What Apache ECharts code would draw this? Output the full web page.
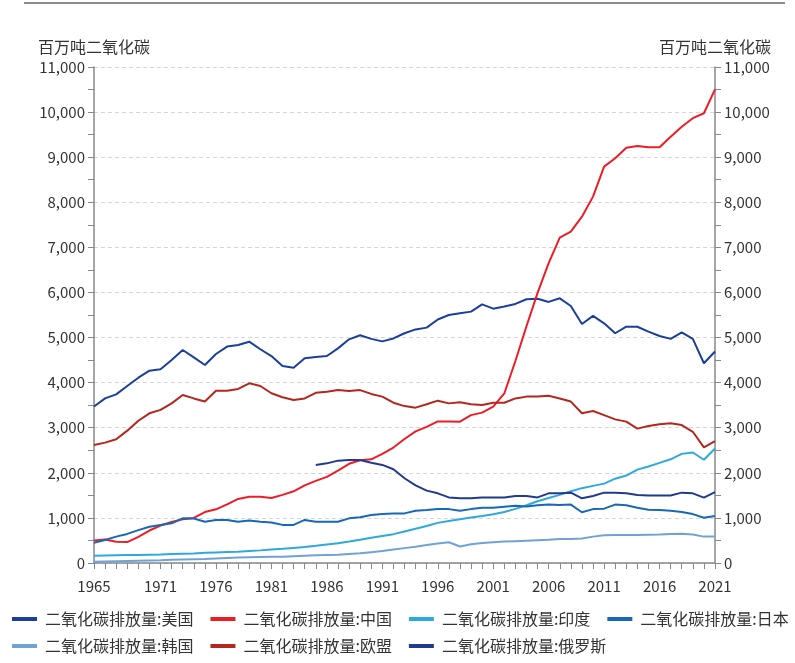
<!DOCTYPE html>
<html>
<head>
<meta charset="utf-8">
<script src="https://cdn.jsdelivr.net/npm/echarts@6/dist/echarts.min.js"></script>
<style>
  html, body { margin: 0; padding: 0; background: #fff; }
  #chart { width: 795px; height: 663px; }
</style>
</head>
<body>
<div id="chart"></div>
<script>
// years 1965-2021
var years = [];
for (var y = 1965; y <= 2021; y++) years.push(String(y));
var xLabels = ['1965', '1971', '1976', '1981', '1986', '1991', '1996', '2001', '2006', '2011', '2016', '2021'];

// 百万吨二氧化碳
var usa = [3470, 3650, 3740, 3925, 4110, 4265, 4295, 4500, 4724, 4560, 4390, 4635, 4800, 4835, 4908, 4740, 4590, 4370, 4330, 4540,
  4570, 4590, 4760, 4960, 5050, 4970, 4915, 4980, 5095, 5180, 5220, 5400, 5500, 5540, 5575, 5735, 5640, 5690, 5745, 5850,
  5860, 5790, 5870, 5700, 5300, 5480, 5315, 5095, 5240, 5240, 5130, 5035, 4970, 5115, 4970, 4430, 4690];
var china = [500, 520, 470, 465, 580, 720, 830, 910, 970, 1000, 1130, 1190, 1300, 1420, 1470, 1470, 1440, 1510, 1590, 1720,
  1820, 1910, 2050, 2200, 2280, 2300, 2420, 2560, 2750, 2920, 3020, 3140, 3140, 3135, 3280, 3335, 3470, 3760, 4480, 5250,
  5990, 6650, 7215, 7350, 7680, 8125, 8790, 8975, 9210, 9250, 9220, 9220, 9455, 9675, 9865, 9975, 10505];
var india = [160, 165, 170, 175, 180, 185, 190, 200, 205, 210, 225, 235, 245, 250, 265, 280, 300, 315, 335, 355,
  380, 410, 440, 475, 515, 560, 600, 640, 700, 760, 820, 890, 930, 970, 1010, 1040, 1080, 1130, 1200, 1280,
  1370, 1440, 1510, 1590, 1660, 1710, 1760, 1870, 1940, 2070, 2140, 2220, 2300, 2420, 2450, 2290, 2540];
var japan = [450, 510, 585, 645, 730, 805, 845, 880, 990, 985, 915, 955, 955, 915, 945, 915, 900, 845, 845, 955,
  915, 915, 915, 990, 1015, 1065, 1085, 1100, 1100, 1160, 1175, 1195, 1195, 1160, 1195, 1225, 1225, 1250, 1270, 1255,
  1280, 1295, 1285, 1295, 1125, 1195, 1205, 1295, 1280, 1225, 1180, 1175, 1160, 1130, 1085, 1005, 1040];
var korea = [30, 35, 40, 45, 50, 55, 60, 70, 80, 85, 90, 100, 110, 120, 130, 135, 140, 140, 150, 160,
  170, 180, 185, 200, 215, 240, 265, 300, 330, 360, 400, 435, 460, 365, 415, 445, 460, 475, 485, 495,
  505, 515, 530, 535, 545, 585, 615, 620, 620, 620, 625, 630, 645, 650, 630, 585, 590];
var eu = [2615, 2670, 2745, 2935, 3155, 3320, 3395, 3540, 3725, 3650, 3580, 3820, 3820, 3860, 3985, 3925, 3765, 3675, 3615, 3650,
  3775, 3800, 3835, 3815, 3835, 3750, 3690, 3555, 3480, 3445, 3520, 3600, 3540, 3565, 3520, 3505, 3555, 3555, 3650, 3690,
  3690, 3710, 3650, 3580, 3320, 3370, 3280, 3185, 3135, 2980, 3040, 3075, 3100, 3060, 2910, 2565, 2705];
var russia = [null, null, null, null, null, null, null, null, null, null, null, null, null, null, null, null, null, null, null, null,
  2175, 2210, 2270, 2285, 2285, 2225, 2175, 2080, 1880, 1720, 1605, 1545, 1455, 1435, 1435, 1450, 1455, 1455, 1485, 1485,
  1455, 1545, 1545, 1560, 1435, 1485, 1560, 1560, 1545, 1510, 1495, 1495, 1495, 1560, 1545, 1450, 1570];

var names = ['二氧化碳排放量:美国', '二氧化碳排放量:中国', '二氧化碳排放量:印度', '二氧化碳排放量:日本',
  '二氧化碳排放量:韩国', '二氧化碳排放量:欧盟', '二氧化碳排放量:俄罗斯'];
var colors = ['#1b3f9c', '#ee1c25', '#2ea9df', '#1768b8', '#6fa3d6', '#b5261e', '#213a91'];
var values = [usa, china, india, japan, korea, eu, russia];

var font = '"Noto Sans CJK SC", "Noto Sans", sans-serif';
var myChart = echarts.init(document.getElementById('chart'));

function yAxis(pos) {
  return {
    type: 'value',
    position: pos,
    min: 0,
    max: 11000,
    interval: 1000,
    name: '百万吨二氧化碳',
    nameGap: 12,
    nameTextStyle: { color: '#333', fontSize: 16, fontFamily: font },
    axisLine: { show: true, lineStyle: { color: '#888', width: 1.5 } },
    axisTick: { show: true, length: 6, lineStyle: { color: '#888' } },
    minorTick: { show: true, splitNumber: 2, length: 6, lineStyle: { color: '#888' } },
    axisLabel: {
      color: '#333', fontSize: 15, fontFamily: font, margin: 9,
      formatter: function (v) { return v.toLocaleString('en-US'); }
    },
    splitLine: pos === 'left'
      ? { show: true, lineStyle: { color: '#d6d6d6', type: [4, 3] } }
      : { show: false }
  };
}

var legendBase = {
  orient: 'horizontal',
  icon: 'rect',
  padding: 0,
  width: 783,
  itemWidth: 25,
  itemHeight: 4,
  itemGap: 17,
  textStyle: { color: '#333', fontSize: 16, fontFamily: font, padding: [0, 0, 0, 3] }
};

var option = {
  animation: false,
  color: colors,
  graphic: [{
    type: 'line',
    shape: { x1: 24, y1: 3, x2: 785, y2: 3 },
    style: { stroke: '#8c8c8c', lineWidth: 2 }
  }],
  legend: [
    Object.assign({}, legendBase, { left: 12, top: 611, data: names.slice(0, 4) }),
    Object.assign({}, legendBase, { left: 12, top: 638, data: names.slice(4) })
  ],
  grid: { left: 94, right: 80, top: 67, bottom: 100, containLabel: false },
  xAxis: {
    type: 'category',
    boundaryGap: false,
    data: years,
    axisLine: { lineStyle: { color: '#888', width: 1.5 } },
    axisTick: { show: true, interval: 0, length: 6, lineStyle: { color: '#888' } },
    axisLabel: {
      color: '#333', fontSize: 15, fontFamily: font, margin: 16,
      interval: function (idx, val) { return xLabels.indexOf(val) !== -1; }
    },
    splitLine: { show: false }
  },
  yAxis: [yAxis('left'), yAxis('right')],
  series: names.map(function (n, i) {
    return {
      name: n,
      type: 'line',
      yAxisIndex: 0,
      data: values[i],
      symbol: 'none',
      lineStyle: { width: 2, color: colors[i] },
      itemStyle: { color: colors[i] }
    };
  })
};
myChart.setOption(option);
</script>
</body>
</html>
